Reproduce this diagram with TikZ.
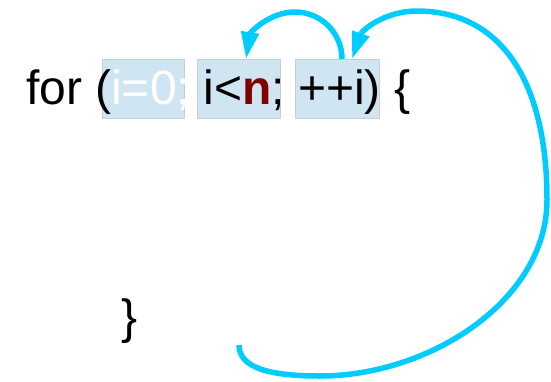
\documentclass[tikz,border=0pt]{standalone}
\usepackage{fontspec}
\setmainfont{Liberation Sans}
\usetikzlibrary{arrows.meta}
\definecolor{boxfill}{RGB}{208,229,242}
\definecolor{boxline}{RGB}{200,206,212}
\definecolor{loopcol}{RGB}{0,204,255}
\definecolor{maroonn}{RGB}{128,0,0}
\tikzset{
  hlbox/.style={draw=boxline, line width=0.8pt, fill=boxfill, rectangle, anchor=north west,
    inner sep=0pt, outer sep=0pt, minimum height=59pt},
  codetext/.style={anchor=base west, inner sep=0pt, outer sep=0pt, font=\fontsize{48}{58}\selectfont},
  looparrow/.style={draw=loopcol, line width=5.5pt, -{Triangle[length=27pt,width=17pt]}}
}
\begin{document}
\begin{tikzpicture}[x=1pt,y=-1pt]
\useasboundingbox (0,0) rectangle (551,381);
% highlight boxes
\node[hlbox, minimum width=82pt] (b1) at (102,59) {};
\node[hlbox, minimum width=83pt] (b2) at (197,59) {};
\node[hlbox, minimum width=84pt] (b3) at (295,59) {};
% code text
\node[codetext] (code) at (26,104.5) {for (\textcolor{white}{i=0;}\ i<\textcolor{maroonn}{\textbf{n}};\ ++i)\ \{};
\node[codetext] (close) at (121.5,333.5) {\}};
% loop arrows
\coordinate (loopend) at (239,345);
\draw[looparrow] ([xshift=5pt]b3.north) .. controls (342,33) and (321,12) .. (295,12)
  .. controls (269,12) and (250,33) .. ([xshift=7.5pt]b2.north);
\draw[looparrow] (loopend) .. controls (239,368) and (270,376) .. (320,376)
  .. controls (430,376) and (547,300) .. (547,200)
  .. controls (547,80) and (500,11) .. (417,11)
  .. controls (385,11) and (362,30) .. ([xshift=15pt]b3.north);
\end{tikzpicture}
\end{document}
